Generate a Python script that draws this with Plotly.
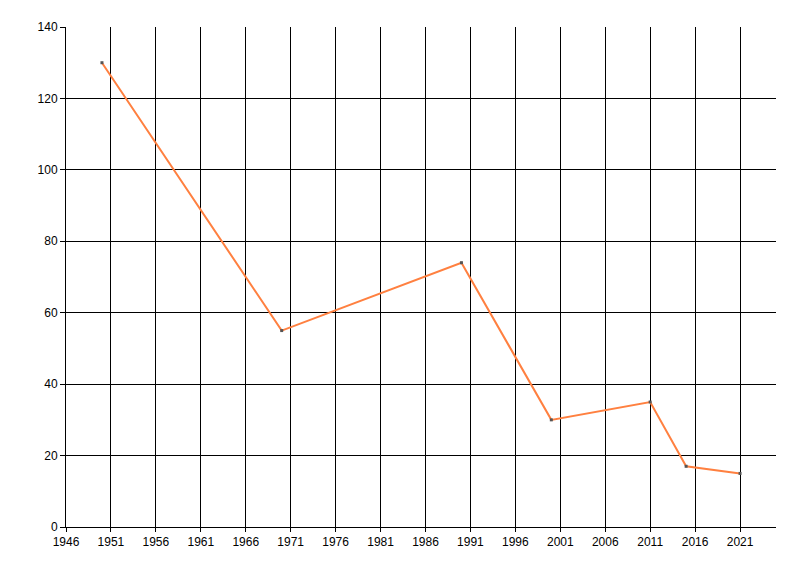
import plotly.graph_objects as go

# data
years = [1950, 1970, 1990, 2000, 2011, 2015, 2021]
values = [130, 55, 74, 30, 35, 17, 15]

x_ticks = list(range(1946, 2025, 5))
y_ticks = list(range(0, 141, 20))

fig = go.Figure()

fig.add_trace(go.Scatter(
    x=years,
    y=values,
    mode="lines+markers",
    line=dict(color="#ff8040", width=2),
    marker=dict(color="#555555", size=3, symbol="square"),
    showlegend=False,
    hoverinfo="x+y"
))

axis_style = dict(
    showgrid=True,
    gridcolor="#000000",
    gridwidth=1,
    showline=True,
    linecolor="#000000",
    linewidth=1,
    ticks="outside",
    tickcolor="#000000",
    zeroline=False,
    tickfont=dict(family="Liberation Sans, Arial, sans-serif", size=12, color="#000000"),
)

fig.update_xaxes(
    range=[1946, 2025],
    tickvals=x_ticks,
    ticktext=[str(t) for t in x_ticks],
    ticklen=4,
    **axis_style
)
fig.update_yaxes(
    range=[0, 140],
    tickvals=y_ticks,
    ticklen=5,
    **axis_style
)

# page adds an 8px body margin, so the figure is a bit smaller than the window
fig.update_layout(
    width=784,
    height=560,
    paper_bgcolor="#ffffff",
    plot_bgcolor="#ffffff",
    margin=dict(l=58, r=16, t=19, b=41),
)

fig.write_html("out.html")
